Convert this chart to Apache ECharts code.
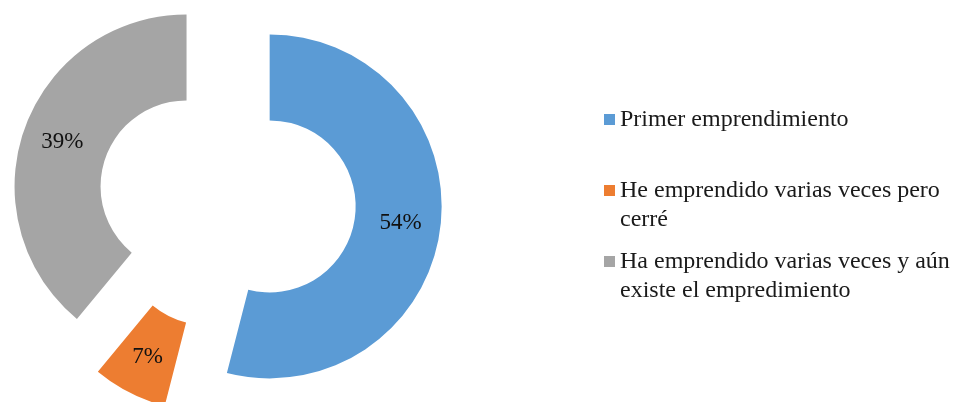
<!DOCTYPE html>
<html>
<head>
<meta charset="utf-8">
<script src="https://cdn.jsdelivr.net/npm/echarts@6/dist/echarts.min.js"></script>
<style>
  html, body { margin: 0; padding: 0; background: #fff; }
  #chart { width: 954px; height: 402px; }
</style>
</head>
<body>
<div id="chart"></div>
<script>
// Respuestas: situación del emprendimiento
const categories = [
  'Primer emprendimiento',
  'He emprendido varias veces pero cerré',
  'Ha emprendido varias veces y aún existe el empredimiento'
];
const values = [54, 7, 39];
const colors = ['#5B9BD5', '#ED7D31', '#A5A5A5'];

// legend text, wrapped by hand
const legendText = {
  'Primer emprendimiento': ['Primer emprendimiento'],
  'He emprendido varias veces pero cerré': ['He emprendido varias veces pero', 'cerré'],
  'Ha emprendido varias veces y aún existe el empredimiento': ['Ha emprendido varias veces y aún', 'existe el empredimiento']
};

const FONT = '"Liberation Serif", "Times New Roman", serif';
const LINE = 29;

const chart = echarts.init(document.getElementById('chart'), null, { renderer: 'canvas' });

chart.setOption({
  animation: false,
  color: colors,
  legend: {
    orient: 'vertical',
    left: 604,
    top: 76,
    padding: 0,
    itemWidth: 11,
    itemHeight: 11,
    itemGap: -16,
    icon: 'rect',
    selectedMode: false,
    data: categories,
    // a blank line above keeps the first text line level with the colour square
    formatter: name => {
      const lines = legendText[name];
      return '\n' + lines.join('\n') + (lines.length === 1 ? '\n' : '');
    },
    textStyle: {
      fontFamily: FONT,
      fontSize: 24,
      lineHeight: LINE,
      color: '#1a1a1a'
    }
  },
  series: [{
    type: 'pie',
    center: [227, 201],
    radius: [86, 172],
    startAngle: 90,
    clockwise: true,
    selectedMode: 'multiple',
    selectedOffset: 43,
    silent: true,
    label: {
      show: true,
      position: 'inside',
      formatter: '{c}%',
      fontFamily: FONT,
      fontSize: 23,
      color: '#111'
    },
    labelLine: { show: false },
    emphasis: { disabled: true },
    select: { itemStyle: { borderWidth: 0 } },
    itemStyle: { borderWidth: 0 },
    data: categories.map((name, i) => ({
      name,
      value: values[i],
      selected: true,
      itemStyle: { color: colors[i] },
      select: { itemStyle: { color: colors[i] } }
    }))
  }]
});
</script>
</body>
</html>
